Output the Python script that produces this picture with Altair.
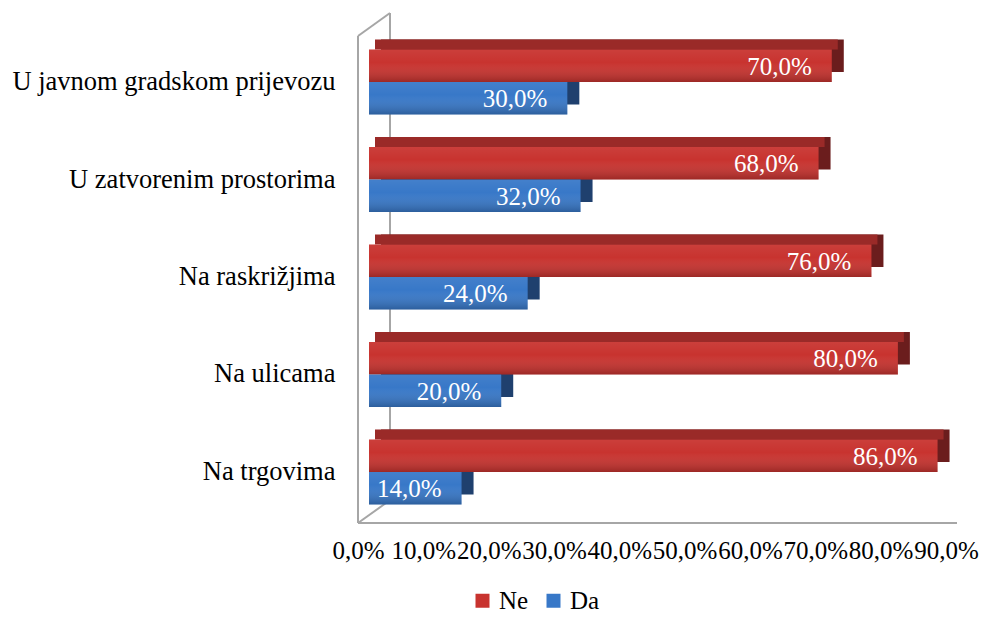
import altair as alt
import pandas as pd

categories = ["U javnom gradskom prijevozu", "U zatvorenim prostorima",
              "Na raskrižjima", "Na ulicama", "Na trgovima"]
ne_values = [70.0, 68.0, 76.0, 80.0, 86.0]
da_values = [30.0, 32.0, 24.0, 20.0, 14.0]
series_names = ["Ne", "Da"]
x_ticks = [0, 10, 20, 30, 40, 50, 60, 70, 80, 90]

rows = []
for c, n, d in zip(categories, ne_values, da_values):
    rows.append({"cat": c, "series": "Ne", "value": n})
    rows.append({"cat": c, "series": "Da", "value": d})
df = pd.DataFrame(rows)

W, H = 600, 492
BAR_H = 32.5
HALF = BAR_H / 2
DX, DY = 12, -10
FONT = "Liberation Serif"

RED = "#C8332F"
RED_TOP = "#9A2A28"
RED_SIDE = "#6B1D1D"
BLUE = "#3878C8"
BLUE_SIDE = "#1F406E"
GRAY = "#A6A6A6"

lbl_expr = "replace(format(datum.value, '.1f'), '.', ',') + '%'"

x_axis = alt.Axis(values=x_ticks, labelExpr=lbl_expr, domain=False, ticks=False,
                  grid=False, labelFont=FONT, labelFontSize=25, labelColor="black",
                  labelPadding=15, labelOverlap=False, labelFlush=False,
                  labelOffset=alt.ExprRef(expr="-11 - datum.value*0.078"), title=None)
x_enc = alt.X("value:Q", scale=alt.Scale(domain=[0, 90], range=[11, 606]), axis=x_axis)
y_enc = alt.Y("cat:N", sort=categories,
              scale=alt.Scale(domain=categories, paddingInner=0.333, paddingOuter=0.19),
              axis=alt.Axis(title=None, domain=False, ticks=False, labelFont=FONT,
                            labelFontSize=26.5, labelColor="black", labelPadding=23,
                            labelLimit=400))

base = alt.Chart(df)
ne = base.transform_filter("datum.series == 'Ne'")
da = base.transform_filter("datum.series == 'Da'")

one = alt.Chart(pd.DataFrame({"a": [0]}))
rule_style = dict(color=GRAY, strokeWidth=2)
wall = [
    one.mark_rule(**rule_style).encode(x=alt.value(0), y=alt.value(5), y2=alt.value(H)),
    one.mark_rule(**rule_style).encode(x=alt.value(0), y=alt.value(5), x2=alt.value(32), y2=alt.value(-18)),
    one.mark_rule(**rule_style).encode(x=alt.value(32), y=alt.value(-18), y2=alt.value(H - 22)),
    one.mark_rule(**rule_style).encode(x=alt.value(0), y=alt.value(H), x2=alt.value(28), y2=alt.value(H - 20)),
    one.mark_rule(**rule_style).encode(x=alt.value(0), x2=alt.value(W - 1), y=alt.value(H)),
]

ne_side = ne.mark_bar(height=BAR_H, yOffset=-HALF + DY, xOffset=DX, color=RED_SIDE).encode(x=x_enc, y=y_enc)
ne_top = ne.mark_bar(height=-DY, yOffset=-BAR_H + DY / 2, xOffset=DX / 2, color=RED_TOP).encode(x=x_enc, y=y_enc)
da_side = da.mark_bar(height=BAR_H, yOffset=HALF + DY, xOffset=DX, color=BLUE_SIDE).encode(x=x_enc, y=y_enc)

color_enc = alt.Color("series:N", scale=alt.Scale(domain=series_names, range=[RED, BLUE]),
                      legend=alt.Legend(title=None, orient="none", legendX=112, legendY=557,
                                        direction="horizontal", symbolType="square",
                                        symbolSize=196, symbolStrokeWidth=0,
                                        labelFont=FONT, labelFontSize=25, labelColor="black",
                                        columnPadding=12, labelOffset=4, padding=0))

ne_front = ne.mark_bar(height=BAR_H, yOffset=-HALF).encode(x=x_enc, y=y_enc, color=color_enc)
da_front = da.mark_bar(height=BAR_H, yOffset=HALF).encode(x=x_enc, y=y_enc, color=color_enc)

grad = alt.LinearGradient(gradient="linear", x1=0, x2=0, y1=0, y2=1, stops=[
    alt.GradientStop(color="rgba(255,255,255,0.06)", offset=0),
    alt.GradientStop(color="rgba(255,255,255,0.0)", offset=0.4),
    alt.GradientStop(color="rgba(0,0,0,0.22)", offset=1),
])
ne_shade = ne.mark_bar(height=BAR_H, yOffset=-HALF, fill=grad).encode(x=x_enc, y=y_enc)
da_shade = da.mark_bar(height=BAR_H, yOffset=HALF, fill=grad).encode(x=x_enc, y=y_enc)

txt_style = dict(align="right", baseline="middle", dx=-20, font=FONT, fontSize=25, color="white")
ne_txt = ne.transform_calculate(label=lbl_expr).mark_text(yOffset=-HALF + 1, **txt_style).encode(
    x=x_enc, y=y_enc, text="label:N")
da_txt = da.transform_calculate(label=lbl_expr).mark_text(yOffset=HALF + 1, **txt_style).encode(
    x=x_enc, y=y_enc, text="label:N")

chart = alt.layer(
    *wall, ne_side, ne_top, da_side, ne_front, da_front, ne_shade, da_shade, ne_txt, da_txt
).properties(
    width=W, height=H,
    padding={"left": 350, "top": 23, "right": 23, "bottom": 92},
    autosize=alt.AutoSizeParams(type="none"),
).configure_view(stroke=None)

chart.save("out.html", embed_options={"renderer": "svg", "actions": False})
